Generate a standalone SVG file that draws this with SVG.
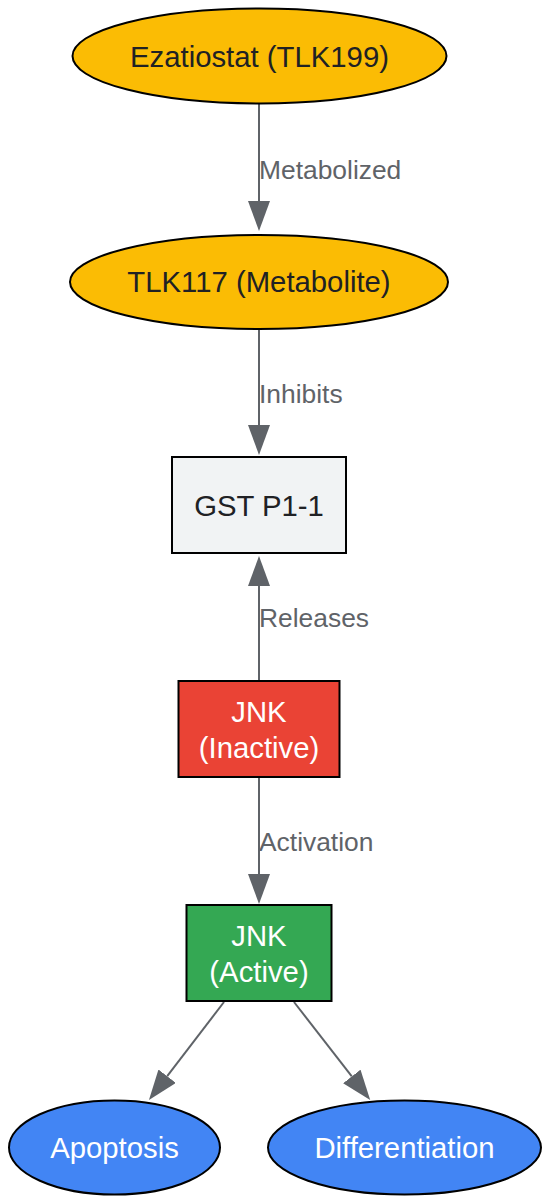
<svg xmlns="http://www.w3.org/2000/svg" width="542" height="1196" viewBox="0 0 542 1196">
<style>
.n{stroke:#000;stroke-width:2}
.t{font-family:"Liberation Sans",Arial,sans-serif;font-size:29.3px;text-anchor:middle}
.dk{fill:#202124}
.wh{fill:#fff}
.e{stroke:#5f6368;stroke-width:2;fill:none}
.l{font-family:"Liberation Sans",Arial,sans-serif;font-size:26.4px;fill:#5f6368}
</style>
<defs>
<marker id="ah" markerUnits="userSpaceOnUse" markerWidth="30" markerHeight="22" viewBox="0 -11 30 22" refX="0" refY="0" orient="auto">
<path d="M0,-11 L30,0 L0,11 z" fill="#5f6368"/>
</marker>
</defs>
<g id="edges">
<path class="e" d="M259,104 V201" marker-end="url(#ah)"/>
<text class="l" x="259" y="179">Metabolized</text>
<path class="e" d="M259,329 V425" marker-end="url(#ah)"/>
<text class="l" x="259" y="403">Inhibits</text>
<path class="e" d="M259,681 V586" marker-end="url(#ah)"/>
<text class="l" x="259" y="627">Releases</text>
<path class="e" d="M259,778 V874" marker-end="url(#ah)"/>
<text class="l" x="259" y="851">Activation</text>
<path class="e" d="M224,1002 L167.2,1076.2" marker-end="url(#ah)"/>
<path class="e" d="M294,1002 L351.8,1076.4" marker-end="url(#ah)"/>
</g>
<g id="ezatiostat">
<ellipse class="n" cx="259.5" cy="56" rx="187" ry="47.5" fill="#fbbc04"/>
<text class="t dk" x="259.5" y="67">Ezatiostat (TLK199)</text>
</g>
<g id="tlk117">
<ellipse class="n" cx="259" cy="282" rx="189" ry="47" fill="#fbbc04"/>
<text class="t dk" x="259" y="292">TLK117 (Metabolite)</text>
</g>
<g id="gst">
<rect class="n" x="172" y="457" width="174" height="96" fill="#f1f3f4"/>
<text class="t dk" x="259" y="516">GST P1-1</text>
</g>
<g id="jnk_inactive">
<rect class="n" x="178.5" y="681" width="161" height="96" fill="#ea4335"/>
<text class="t wh" x="259" y="722">JNK</text>
<text class="t wh" x="259" y="758">(Inactive)</text>
</g>
<g id="jnk_active">
<rect class="n" x="186.5" y="905" width="145" height="96" fill="#34a853"/>
<text class="t wh" x="259" y="946">JNK</text>
<text class="t wh" x="259" y="982">(Active)</text>
</g>
<g id="apoptosis">
<ellipse class="n" cx="114.5" cy="1147.5" rx="105.5" ry="47" fill="#4285f4"/>
<text class="t wh" x="114.5" y="1158">Apoptosis</text>
</g>
<g id="differentiation">
<ellipse class="n" cx="404.5" cy="1147.5" rx="136.5" ry="47" fill="#4285f4"/>
<text class="t wh" x="404.5" y="1158">Differentiation</text>
</g>
</svg>
